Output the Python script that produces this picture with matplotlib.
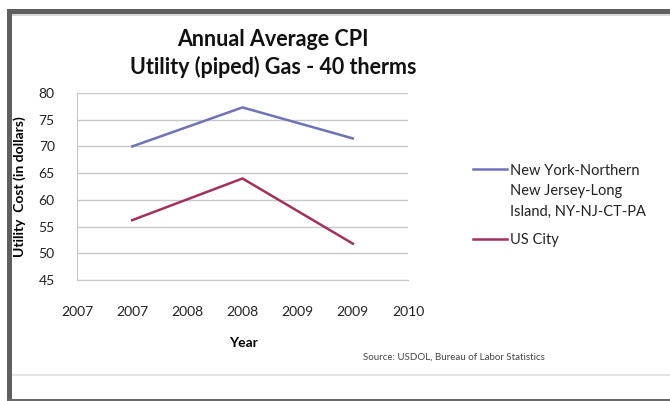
import matplotlib
matplotlib.use("Agg")
import matplotlib.pyplot as plt
from matplotlib.patches import Rectangle
from matplotlib.lines import Line2D

plt.rcParams['font.family'] = ['Lato', 'DejaVu Sans']

# Data
tick_labels = ["2007", "2007", "2008", "2008", "2009", "2009", "2010"]
years = ["2007", "2008", "2009"]
year_positions = [1, 3, 5]
ny_values = [70.0, 77.3, 71.5]
us_values = [56.2, 64.0, 51.8]
series_names = ["New York-Northern\nNew Jersey-Long\nIsland, NY-NJ-CT-PA", "US City"]
ny_color = "#6F73B6"
us_color = "#A3305F"

W, H = 670, 401
fig = plt.figure(figsize=(W / 100, H / 100), dpi=100)

def fx(px):
    return px / W

def fy(py):
    return 1 - py / H

# Frame decorations
fig.patches.append(Rectangle((fx(7), fy(14)), fx(670 - 7), 5 / H, transform=fig.transFigure,
                             facecolor="#5f5f5f", edgecolor="none"))
fig.patches.append(Rectangle((fx(7), fy(401)), fx(5), (401 - 9) / H, transform=fig.transFigure,
                             facecolor="#5f5f5f", edgecolor="none"))
fig.patches.append(Rectangle((fx(7), fy(401)), fx(670 - 7), 2 / H, transform=fig.transFigure,
                             facecolor="#6a6a6a", edgecolor="none"))
fig.patches.append(Rectangle((fx(12), fy(376)), fx(670 - 12), 2 / H, transform=fig.transFigure,
                             facecolor="#e4e4e4", edgecolor="none"))
fig.patches.append(Rectangle((fx(12), fy(15.5)), fx(670 - 12), 1.2 / H, transform=fig.transFigure,
                             facecolor="#d8d8d8", edgecolor="none"))

# Axes: x from 77 to 408 px, y from 93 (80) to 280 (45)
ax = fig.add_axes([fx(77), fy(280), fx(408 - 77), (280 - 93) / H])
ax.plot(year_positions, ny_values, color=ny_color, lw=1.8)
ax.plot(year_positions, us_values, color=us_color, lw=1.8)
ax.set_xlim(0, 6)
ax.set_ylim(45, 80)
ax.set_yticks(range(45, 81, 5))
ax.set_xticks(range(len(tick_labels)))
ax.set_xticklabels(tick_labels)
ax.yaxis.grid(True, color="#c8c8c8", lw=1)
ax.set_axisbelow(True)
for s in ["top", "right"]:
    ax.spines[s].set_visible(False)
ax.spines["left"].set_color("#c8c8c8")
ax.spines["bottom"].set_color("#c8c8c8")
ax.tick_params(axis="both", length=0, labelsize=10, colors="#222222")
ax.tick_params(axis="x", pad=19)
ax.tick_params(axis="y", pad=16)

ax.set_ylabel("Utility  Cost (in dollars)", fontsize=10, fontweight="bold")
ax.yaxis.set_label_coords((26 - 77) / (408 - 77), 0.5)
fig.text(fx(243), fy(343), "Year", ha="center", va="center", fontsize=10, fontweight="bold")

fig.text(fx(273), fy(39), "Annual Average CPI", ha="center", va="center",
         fontsize=15.5, fontweight="bold", color="#111111")
fig.text(fx(273), fy(67), "Utility (piped) Gas - 40 therms", ha="center", va="center",
         fontsize=15.5, fontweight="bold", color="#111111")

fig.text(fx(454), fy(357), "Source: USDOL, Bureau of Labor Statistics", ha="center", va="center",
         fontsize=7, color="#444444")

# Legend
fig.lines.append(Line2D([fx(473), fx(507)], [fy(169), fy(169)], transform=fig.transFigure,
                        color=ny_color, lw=1.8))
fig.lines.append(Line2D([fx(473), fx(507)], [fy(238.5), fy(238.5)], transform=fig.transFigure,
                        color=us_color, lw=1.8))
for i, line in enumerate(series_names[0].split("\n")):
    fig.text(fx(510), fy(171.5 + 20 * i), line, ha="left", va="center", fontsize=10.5, color="#222222")
fig.text(fx(510), fy(240), series_names[1], ha="left", va="center", fontsize=10.5, color="#222222")

fig.savefig("out.png", dpi=100)
